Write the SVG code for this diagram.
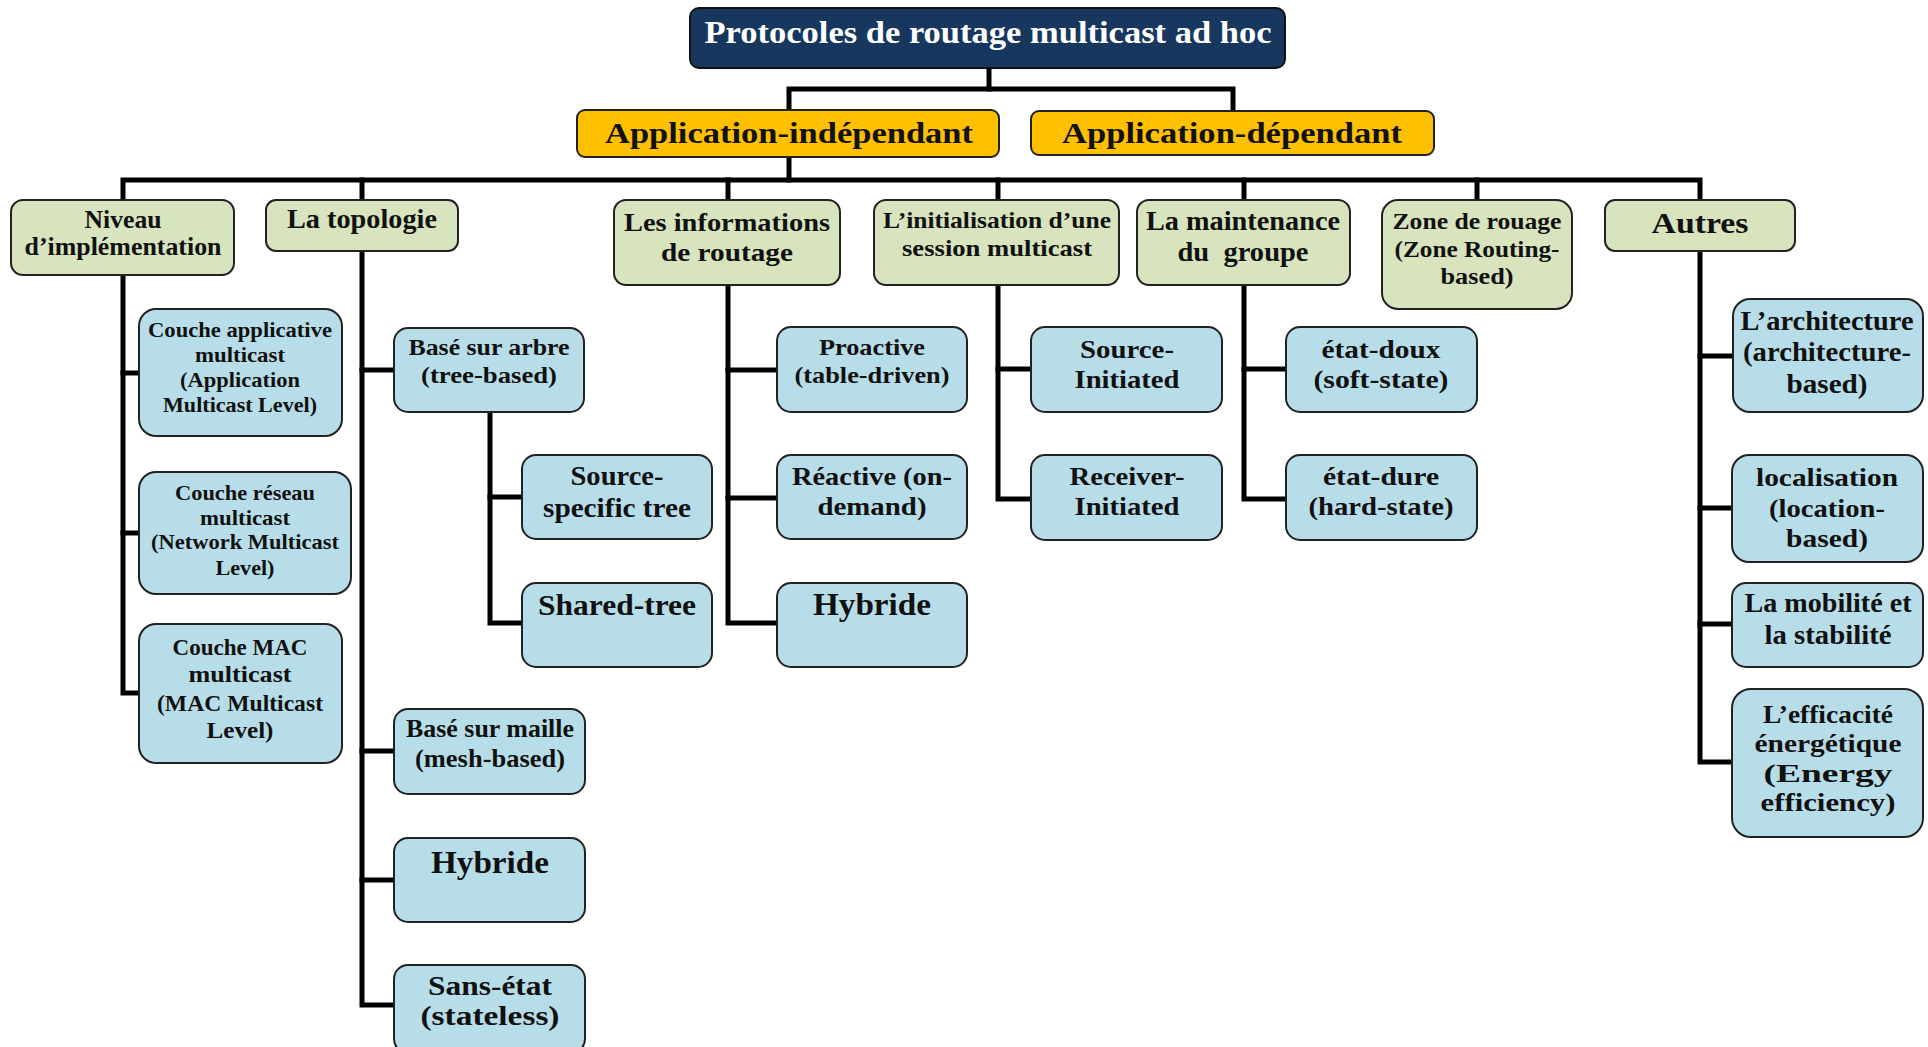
<svg xmlns="http://www.w3.org/2000/svg" width="1928" height="1047" viewBox="0 0 1928 1047">
<style>
.r{fill:#17375E;stroke:#111;stroke-width:2}
.o{fill:#FFC000;stroke:#222;stroke-width:2}
.g{fill:#D7E4BD;stroke:#222;stroke-width:2}
.b{fill:#B7DEE8;stroke:#222;stroke-width:2}
text{font-family:"Liberation Serif","DejaVu Serif",serif;font-weight:bold;text-anchor:middle;fill:#111}
.w{fill:#fff}
#connectors path{fill:none;stroke:#000;stroke-width:5;stroke-linejoin:miter;stroke-linecap:square}
</style>
<rect width="1928" height="1047" fill="#fff"/>
<g id="connectors">
<path d="M989,68 V89"/>
<path d="M789,110 V89 H1233 V111"/>
<path d="M789,157 V180"/>
<path d="M123,200 V180 H1700 V200"/>
<path d="M362,180 V200"/><path d="M728,180 V200"/><path d="M998,180 V200"/><path d="M1244,180 V200"/><path d="M1477,180 V200"/>
<path d="M123,275 V693 H139"/><path d="M123,373 H139"/><path d="M123,533 H139"/>
<path d="M362,251 V1005 H394"/><path d="M362,370 H394"/><path d="M362,751 H394"/><path d="M362,880 H394"/>
<path d="M490,412 V623 H522"/><path d="M490,497 H522"/>
<path d="M728,285 V623 H777"/><path d="M728,370 H777"/><path d="M728,498 H777"/>
<path d="M998,285 V499 H1031"/><path d="M998,369 H1031"/>
<path d="M1244,285 V499 H1286"/><path d="M1244,369 H1286"/>
<path d="M1700,251 V762 H1732"/><path d="M1700,356 H1733"/><path d="M1700,508 H1732"/><path d="M1700,624 H1732"/>
</g>
<g id="root"><rect class="r" x="690" y="8" width="595" height="60" rx="9"/><text class="w" x="988" y="43" font-size="32" textLength="567" lengthAdjust="spacingAndGlyphs">Protocoles de routage multicast ad hoc</text></g>
<g id="app-indep"><rect class="o" x="577" y="110" width="422" height="47" rx="8"/><text x="789" y="143" font-size="30" textLength="368" lengthAdjust="spacingAndGlyphs">Application-indépendant</text></g>
<g id="app-dep"><rect class="o" x="1031" y="111" width="403" height="44" rx="8"/><text x="1232" y="143" font-size="30" textLength="340" lengthAdjust="spacingAndGlyphs">Application-dépendant</text></g>
<g id="niveau"><rect class="g" x="11" y="200" width="223" height="75" rx="12"/><text x="123" y="228" font-size="25" textLength="77" lengthAdjust="spacingAndGlyphs">Niveau</text><text x="123" y="255" font-size="25" textLength="197" lengthAdjust="spacingAndGlyphs">d’implémentation</text></g>
<g id="topologie"><rect class="g" x="266" y="200" width="192" height="51" rx="10"/><text x="362" y="228" font-size="27" textLength="150" lengthAdjust="spacingAndGlyphs">La topologie</text></g>
<g id="informations"><rect class="g" x="614" y="200" width="226" height="85" rx="12"/><text x="727" y="231" font-size="26" textLength="206" lengthAdjust="spacingAndGlyphs">Les informations</text><text x="727" y="261" font-size="26" textLength="132" lengthAdjust="spacingAndGlyphs">de routage</text></g>
<g id="initialisation"><rect class="g" x="874" y="200" width="245" height="85" rx="12"/><text x="997" y="228" font-size="24" textLength="228" lengthAdjust="spacingAndGlyphs">L’initialisation d’une</text><text x="997" y="256" font-size="24" textLength="190" lengthAdjust="spacingAndGlyphs">session multicast</text></g>
<g id="maintenance"><rect class="g" x="1137" y="200" width="213" height="85" rx="12"/><text x="1243" y="230" font-size="27" textLength="194" lengthAdjust="spacingAndGlyphs">La maintenance</text><text x="1243" y="261" font-size="27" textLength="131" lengthAdjust="spacingAndGlyphs">du&#160; groupe</text></g>
<g id="zone"><rect class="g" x="1382" y="200" width="190" height="109" rx="16"/><text x="1477" y="229" font-size="24" textLength="169" lengthAdjust="spacingAndGlyphs">Zone de rouage</text><text x="1477" y="257" font-size="24" textLength="165" lengthAdjust="spacingAndGlyphs">(Zone Routing-</text><text x="1477" y="284" font-size="24" textLength="73" lengthAdjust="spacingAndGlyphs">based)</text></g>
<g id="autres"><rect class="g" x="1605" y="200" width="190" height="51" rx="10"/><text x="1700" y="233" font-size="30" textLength="97" lengthAdjust="spacingAndGlyphs">Autres</text></g>
<g id="couche-app"><rect class="b" x="139" y="309" width="203" height="127" rx="17"/><text x="240" y="337" font-size="21" textLength="184" lengthAdjust="spacingAndGlyphs">Couche applicative</text><text x="240" y="362" font-size="21" textLength="90" lengthAdjust="spacingAndGlyphs">multicast</text><text x="240" y="387" font-size="21" textLength="120" lengthAdjust="spacingAndGlyphs">(Application</text><text x="240" y="412" font-size="21" textLength="154" lengthAdjust="spacingAndGlyphs">Multicast Level)</text></g>
<g id="couche-reseau"><rect class="b" x="139" y="472" width="212" height="122" rx="17"/><text x="245" y="500" font-size="21" textLength="140" lengthAdjust="spacingAndGlyphs">Couche réseau</text><text x="245" y="525" font-size="21" textLength="90" lengthAdjust="spacingAndGlyphs">multicast</text><text x="245" y="549" font-size="21" textLength="188" lengthAdjust="spacingAndGlyphs">(Network Multicast</text><text x="245" y="575" font-size="21" textLength="59" lengthAdjust="spacingAndGlyphs">Level)</text></g>
<g id="couche-mac"><rect class="b" x="139" y="624" width="203" height="139" rx="17"/><text x="240" y="655" font-size="24" textLength="135" lengthAdjust="spacingAndGlyphs">Couche MAC</text><text x="240" y="682" font-size="24" textLength="103" lengthAdjust="spacingAndGlyphs">multicast</text><text x="240" y="711" font-size="24" textLength="166" lengthAdjust="spacingAndGlyphs">(MAC Multicast</text><text x="240" y="738" font-size="24" textLength="67" lengthAdjust="spacingAndGlyphs">Level)</text></g>
<g id="arbre"><rect class="b" x="394" y="328" width="190" height="84" rx="14"/><text x="489" y="355" font-size="24" textLength="161" lengthAdjust="spacingAndGlyphs">Basé sur arbre</text><text x="489" y="383" font-size="24" textLength="136" lengthAdjust="spacingAndGlyphs">(tree-based)</text></g>
<g id="source-specific"><rect class="b" x="522" y="455" width="190" height="84" rx="14"/><text x="617" y="485" font-size="27" textLength="93" lengthAdjust="spacingAndGlyphs">Source-</text><text x="617" y="517" font-size="27" textLength="148" lengthAdjust="spacingAndGlyphs">specific tree</text></g>
<g id="shared-tree"><rect class="b" x="522" y="583" width="190" height="84" rx="14"/><text x="617" y="615" font-size="30" textLength="158" lengthAdjust="spacingAndGlyphs">Shared-tree</text></g>
<g id="maille"><rect class="b" x="394" y="709" width="191" height="85" rx="14"/><text x="490" y="737" font-size="25" textLength="168" lengthAdjust="spacingAndGlyphs">Basé sur maille</text><text x="490" y="767" font-size="25" textLength="150" lengthAdjust="spacingAndGlyphs">(mesh-based)</text></g>
<g id="hybride-topo"><rect class="b" x="394" y="838" width="191" height="84" rx="14"/><text x="490" y="873" font-size="32" textLength="118" lengthAdjust="spacingAndGlyphs">Hybride</text></g>
<g id="sans-etat"><rect class="b" x="394" y="965" width="191" height="88" rx="14"/><text x="490" y="995" font-size="27" textLength="124" lengthAdjust="spacingAndGlyphs">Sans-état</text><text x="490" y="1025" font-size="27" textLength="139" lengthAdjust="spacingAndGlyphs">(stateless)</text></g>
<g id="proactive"><rect class="b" x="777" y="327" width="190" height="85" rx="14"/><text x="872" y="355" font-size="24" textLength="106" lengthAdjust="spacingAndGlyphs">Proactive</text><text x="872" y="383" font-size="24" textLength="155" lengthAdjust="spacingAndGlyphs">(table-driven)</text></g>
<g id="reactive"><rect class="b" x="777" y="455" width="190" height="84" rx="14"/><text x="872" y="485" font-size="26" textLength="160" lengthAdjust="spacingAndGlyphs">Réactive (on-</text><text x="872" y="515" font-size="26" textLength="109" lengthAdjust="spacingAndGlyphs">demand)</text></g>
<g id="hybride-info"><rect class="b" x="777" y="583" width="190" height="84" rx="14"/><text x="872" y="615" font-size="32" textLength="118" lengthAdjust="spacingAndGlyphs">Hybride</text></g>
<g id="source-initiated"><rect class="b" x="1031" y="327" width="191" height="85" rx="14"/><text x="1127" y="358" font-size="26" textLength="94" lengthAdjust="spacingAndGlyphs">Source-</text><text x="1127" y="388" font-size="26" textLength="105" lengthAdjust="spacingAndGlyphs">Initiated</text></g>
<g id="receiver-initiated"><rect class="b" x="1031" y="455" width="191" height="85" rx="14"/><text x="1127" y="485" font-size="26" textLength="115" lengthAdjust="spacingAndGlyphs">Receiver-</text><text x="1127" y="515" font-size="26" textLength="105" lengthAdjust="spacingAndGlyphs">Initiated</text></g>
<g id="etat-doux"><rect class="b" x="1286" y="327" width="191" height="85" rx="14"/><text x="1381" y="358" font-size="26" textLength="119" lengthAdjust="spacingAndGlyphs">état-doux</text><text x="1381" y="388" font-size="26" textLength="135" lengthAdjust="spacingAndGlyphs">(soft-state)</text></g>
<g id="etat-dure"><rect class="b" x="1286" y="455" width="191" height="85" rx="14"/><text x="1381" y="485" font-size="26" textLength="116" lengthAdjust="spacingAndGlyphs">état-dure</text><text x="1381" y="515" font-size="26" textLength="145" lengthAdjust="spacingAndGlyphs">(hard-state)</text></g>
<g id="architecture"><rect class="b" x="1733" y="299" width="190" height="113" rx="17"/><text x="1827" y="330" font-size="27" textLength="173" lengthAdjust="spacingAndGlyphs">L’architecture</text><text x="1827" y="361" font-size="27" textLength="168" lengthAdjust="spacingAndGlyphs">(architecture-</text><text x="1827" y="393" font-size="27" textLength="81" lengthAdjust="spacingAndGlyphs">based)</text></g>
<g id="localisation"><rect class="b" x="1732" y="455" width="191" height="107" rx="17"/><text x="1827" y="486" font-size="26" textLength="142" lengthAdjust="spacingAndGlyphs">localisation</text><text x="1827" y="517" font-size="26" textLength="116" lengthAdjust="spacingAndGlyphs">(location-</text><text x="1827" y="547" font-size="26" textLength="82" lengthAdjust="spacingAndGlyphs">based)</text></g>
<g id="mobilite"><rect class="b" x="1732" y="583" width="191" height="84" rx="14"/><text x="1828" y="612" font-size="27" textLength="167" lengthAdjust="spacingAndGlyphs">La mobilité et</text><text x="1828" y="644" font-size="27" textLength="127" lengthAdjust="spacingAndGlyphs">la stabilité</text></g>
<g id="efficacite"><rect class="b" x="1732" y="689" width="191" height="148" rx="19"/><text x="1828" y="723" font-size="26" textLength="130" lengthAdjust="spacingAndGlyphs">L’efficacité</text><text x="1828" y="752" font-size="26" textLength="147" lengthAdjust="spacingAndGlyphs">énergétique</text><text x="1828" y="782" font-size="26" textLength="129" lengthAdjust="spacingAndGlyphs">(Energy</text><text x="1828" y="811" font-size="26" textLength="135" lengthAdjust="spacingAndGlyphs">efficiency)</text></g>
</svg>
